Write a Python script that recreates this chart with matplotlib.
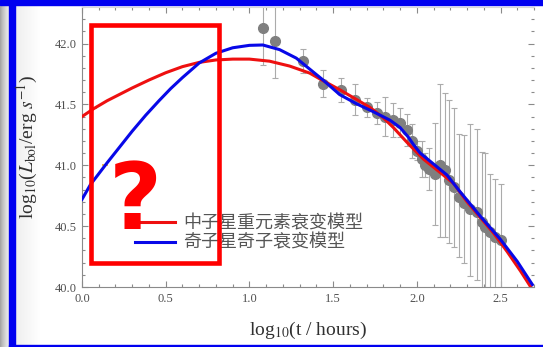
import numpy as np
import matplotlib
matplotlib.use('Agg')
import matplotlib.pyplot as plt
from matplotlib.patches import Rectangle
from matplotlib.lines import Line2D
from matplotlib.ticker import MultipleLocator

# STEP 1: DATA
# observed bolometric light curve (log10 t in hours, log10 L)
obs_x = [1.08, 1.15, 1.32, 1.44, 1.55, 1.63, 1.70, 1.76, 1.81, 1.86,
         1.90, 1.94, 1.97, 2.00, 2.03, 2.05, 2.07, 2.11, 2.14, 2.17,
         2.19, 2.22, 2.25, 2.28, 2.32, 2.36, 2.39, 2.41, 2.44, 2.47, 2.50]
obs_y = [42.13, 42.02, 41.855, 41.67, 41.62, 41.54, 41.475, 41.43, 41.40, 41.37,
         41.35, 41.29, 41.20, 41.12, 41.05, 41.00, 40.97, 40.93, 41.00, 40.96,
         40.88, 40.82, 40.74, 40.69, 40.64, 40.62, 40.53, 40.49, 40.45, 40.41, 40.39]
obs_err_lo = [0.31, 0.30, 0.10, 0.11, 0.10, 0.13, 0.08, 0.09, 0.16, 0.14,
              0.12, 0.13, 0.14, 0.08, 0.15, 0.10, 0.17, 0.42, 0.59, 0.55,
              0.52, 0.49, 0.49, 0.49, 0.55, 0.56, 0.60, 0.60, 0.60, 0.60, 0.60]
obs_err_hi = [0.31, 0.30, 0.10, 0.11, 0.10, 0.13, 0.08, 0.09, 0.16, 0.14,
              0.12, 0.13, 0.14, 0.08, 0.15, 0.10, 0.17, 0.42, 0.67, 0.63,
              0.66, 0.65, 0.52, 0.56, 0.70, 0.68, 0.58, 0.61, 0.48, 0.48, 0.46]

# neutron star r-process decay model (red)
red_x = [0.0, 0.07, 0.15, 0.30, 0.40, 0.50, 0.60, 0.70, 0.80, 0.90, 1.00, 1.12,
         1.24, 1.36, 1.42, 1.54, 1.64, 1.72, 1.80, 1.86, 1.94, 2.04, 2.14,
         2.22, 2.30, 2.38, 2.46, 2.54, 2.62, 2.69]
red_y = [41.40, 41.465, 41.53, 41.635, 41.70, 41.76, 41.81, 41.845, 41.865,
         41.872, 41.872, 41.855, 41.815, 41.757, 41.71, 41.62, 41.54, 41.475,
         41.39, 41.31, 41.19, 41.05, 40.94, 40.85, 40.70, 40.57, 40.44, 40.29,
         40.13, 39.98]

# strange star strangeon decay model (blue)
blue_x = [0.0, 0.05, 0.15, 0.30, 0.38, 0.46, 0.53, 0.60, 0.70, 0.80, 0.90,
          1.00, 1.08, 1.18, 1.28, 1.36, 1.44, 1.54, 1.64, 1.74, 1.84, 1.90,
          1.95, 1.98, 2.02, 2.10, 2.18, 2.26, 2.38, 2.50, 2.60, 2.69]
blue_y = [40.72, 40.84, 41.02, 41.28, 41.41, 41.53, 41.63, 41.72, 41.84,
          41.92, 41.965, 41.985, 41.988, 41.95, 41.88, 41.79, 41.70, 41.58,
          41.505, 41.44, 41.37, 41.31, 41.23, 41.17, 41.10, 41.01, 40.92,
          40.78, 40.58, 40.39, 40.21, 40.02]

# small yellow markers near the left edge
early_x = [0.07, 0.14]
early_y = [41.47, 41.00]

legend_labels = ['中子星重元素衰变模型', '奇子星奇子衰变模型']

# STEP 2: FIGURE AND SLIDE FRAME
plt.rcParams['mathtext.fontset'] = 'stix'
plt.rcParams['font.family'] = ['Liberation Serif', 'DejaVu Serif']

W, H = 543, 347
fig = plt.figure(figsize=(W / 100, H / 100), dpi=100)
fig.patch.set_facecolor('white')

bg = fig.add_axes([0, 0, 1, 1], zorder=-5)
bg.set_xlim(0, W)
bg.set_ylim(H, 0)
bg.axis('off')
ramp = np.linspace(0, 1, 64)[None, :]
bg.imshow(ramp, extent=(0, 9, H, 0), cmap='Greys_r', vmin=-1.6, vmax=1.4, aspect='auto')
bg.imshow(ramp, extent=(15, 40, H, 0), cmap='Greys_r', vmin=-6, vmax=1, aspect='auto')
bg.add_patch(Rectangle((8.5, 0), 6.5, H, color='#0000f0'))
bg.add_patch(Rectangle((0, 0), W, 5, color='#0000f0'))
bg.add_patch(Rectangle((8.5, H - 2.5), W, 2.5, color='#0000f0'))

# STEP 3: MAIN PLOT
ax = fig.add_axes([82 / W, 1 - 287 / H, 452 / W, 280 / H])
ax.set_facecolor('none')

ax.errorbar(obs_x, obs_y, yerr=[obs_err_lo, obs_err_hi], fmt='o',
            color='#7f7f7f', ecolor='#ababab', elinewidth=0.8,
            capsize=2.5, capthick=0.8, markersize=7, zorder=2)
ax.plot(early_x, early_y, '_', color='#f0b020', markersize=4, mew=1.2, zorder=2)
ax.plot(red_x, red_y, color='#ee1010', lw=2.2, zorder=3,
        solid_joinstyle='round')
ax.plot(blue_x, blue_y, color='#0808e8', lw=2.2, zorder=4,
        solid_joinstyle='round')

ax.set_xlim(0, 2.7)
ax.set_ylim(40.0, 42.3)
ax.xaxis.set_major_locator(MultipleLocator(0.5))
ax.xaxis.set_minor_locator(MultipleLocator(0.1))
ax.yaxis.set_major_locator(MultipleLocator(0.5))
ax.yaxis.set_minor_locator(MultipleLocator(0.1))
ax.xaxis.set_major_formatter(plt.FormatStrFormatter('%.1f'))
ax.yaxis.set_major_formatter(plt.FormatStrFormatter('%.1f'))
ax.tick_params(which='both', direction='in', top=True, right=True,
               color='#8a8a8a', width=0.8, labelsize=9, labelcolor='#505050')
ax.tick_params(which='major', length=4.5, pad=4)
ax.tick_params(which='minor', length=2.5)
for side in ['left', 'bottom']:
    ax.spines[side].set_color('#8a8a8a')
    ax.spines[side].set_linewidth(0.8)
ax.spines['top'].set_color('#d8d8d8')
ax.spines['right'].set_visible(False)

ax.set_xlabel(r'log$_{10}$(t / hours)', fontsize=14, color='#303030')
ax.set_ylabel(r'log$_{10}$($L_{\rm bol}$/erg $s^{-1}$)', fontsize=14, color='#303030')
ax.xaxis.set_label_coords(0.5, -0.118)
ax.yaxis.set_label_coords(-0.093, 0.5)

handles = [Line2D([], [], color='#ee1010', lw=2.2),
           Line2D([], [], color='#0808e8', lw=2.2)]
leg = ax.legend(handles, legend_labels, loc='center left',
                bbox_to_anchor=(135 / W, 1 - 233 / H), bbox_transform=fig.transFigure,
                frameon=False, borderpad=0, borderaxespad=0, handlelength=2.2,
                handletextpad=0.45, labelspacing=0.1,
                prop={'family': ['Noto Sans CJK SC', 'DejaVu Sans'], 'size': 13})
for t in leg.get_texts():
    t.set_color('#555555')

# STEP 4: SLIDE ANNOTATION (red box and question mark)
fig.add_artist(Rectangle((91.3 / W, 1 - 262.5 / H), (219 - 91.3) / W, (262.5 - 25.3) / H,
                         transform=fig.transFigure, fill=False, edgecolor='#ff0000',
                         lw=3.3, zorder=10))
fig.text(135 / W, 1 - 229 / H, '?', fontsize=66, fontweight='bold', color='#ff0000',
         family='DejaVu Sans', ha='center', va='baseline', zorder=11)

plt.savefig('out.png', dpi=100)
print('out.png')
